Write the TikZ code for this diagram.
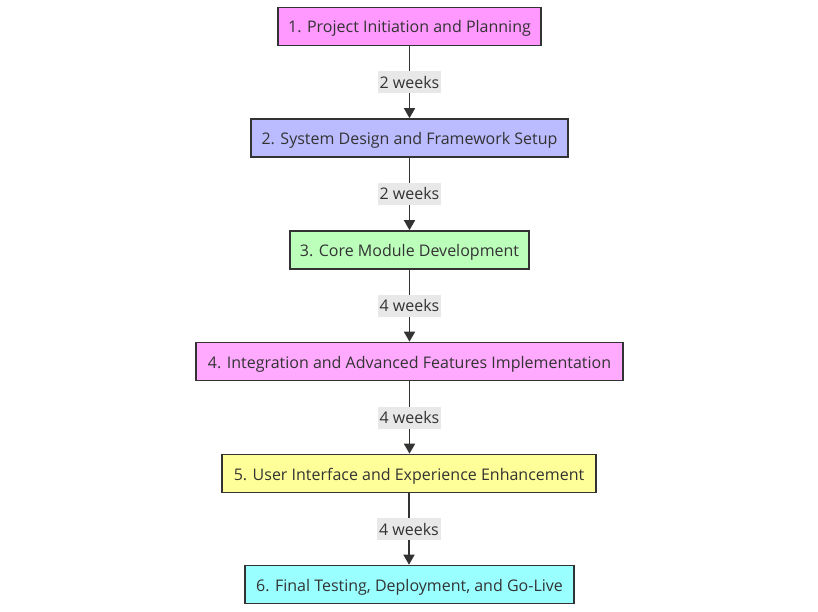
\documentclass[tikz,border=0pt]{standalone}
\usepackage{fontspec}
\setmainfont{Open Sans}
\usetikzlibrary{arrows.meta}
\definecolor{txt}{HTML}{333333}
\definecolor{c1}{HTML}{FF99FF}
\definecolor{c2}{HTML}{BBBBFF}
\definecolor{c3}{HTML}{BBFFBB}
\definecolor{c4}{HTML}{FFAAFF}
\definecolor{c5}{HTML}{FFFF99}
\definecolor{c6}{HTML}{99FFFF}
\definecolor{lbl}{HTML}{E8E8E8}
\tikzset{
  stepbox/.style={draw=txt, line width=1.6pt, text=txt, minimum height=38pt, inner sep=0pt, text height=14pt, text depth=1pt, font=\fontsize{16}{18}\selectfont},
  conn/.style={draw=txt, line width=1.6pt, -{Triangle[length=10pt,width=11pt]}},
  wk/.style={fill=lbl, text=txt, inner sep=2pt, minimum width=62pt, minimum height=22pt, font=\fontsize{16}{18}\selectfont}
}
\begin{document}
\begin{tikzpicture}[x=1pt,y=-1pt]
\useasboundingbox (0,0) rectangle (818,612);
\node[stepbox, fill=c1, minimum width=263pt] (s1) at (409.5,26.5) {1. Project Initiation and Planning};
\node[stepbox, fill=c2, minimum width=317pt] (s2) at (409.5,138) {2. System Design and Framework Setup};
\node[stepbox, fill=c3, minimum width=239pt] (s3) at (409.5,250) {3. Core Module Development};
\node[stepbox, fill=c4, minimum width=427pt] (s4) at (409.5,361.5) {4. Integration and Advanced Features Implementation};
\node[stepbox, fill=c5, minimum width=374pt] (s5) at (409,473.5) {5. User Interface and Experience Enhancement};
\node[stepbox, fill=c6, minimum width=329pt] (s6) at (409.5,584.5) {6. Final Testing, Deployment, and Go-Live};
\draw[conn] (s1.south) -- (s1.south |- s2.north) node[wk, pos=0.5] (l1) {2 weeks};
\draw[conn] (s2.south) -- (s2.south |- s3.north) node[wk, pos=0.5] (l2) {2 weeks};
\draw[conn] (s3.south) -- (s3.south |- s4.north) node[wk, pos=0.5] (l3) {4 weeks};
\draw[conn] (s4.south) -- (s4.south |- s5.north) node[wk, pos=0.5] (l4) {4 weeks};
\draw[conn] (s5.south) -- (s5.south |- s6.north) node[wk, pos=0.5] (l5) {4 weeks};
\end{tikzpicture}
\end{document}
